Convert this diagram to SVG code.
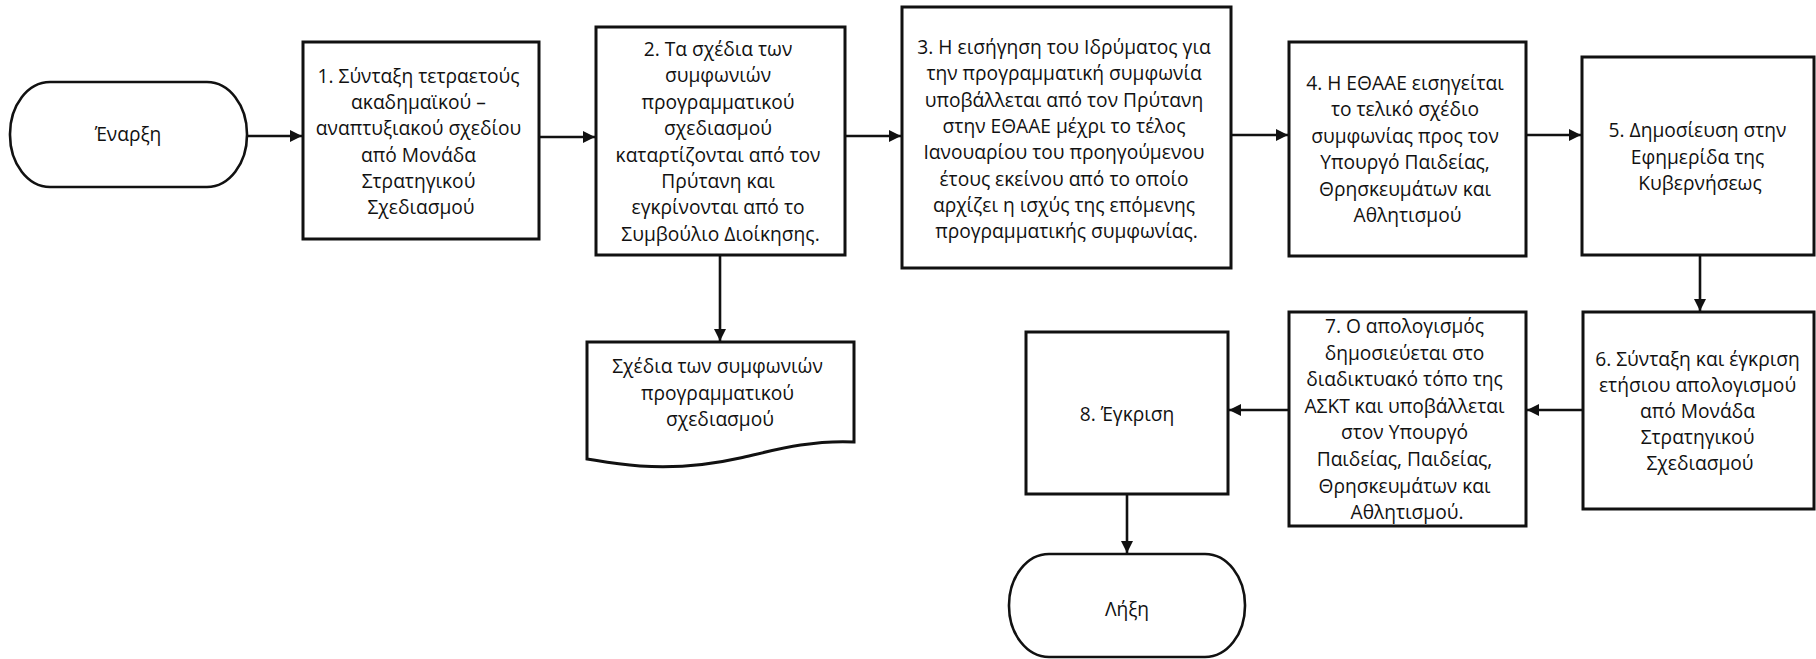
<svg xmlns="http://www.w3.org/2000/svg" width="1816" height="659" viewBox="0 0 1816 659">
  <style>
    .box { fill: #fff; stroke: #111; stroke-width: 3; }
    .term { fill: #fff; stroke: #111; stroke-width: 2.6; }
    .lbl { font-family: "Open Sans", "Noto Sans", "Liberation Sans", sans-serif; font-size: 19.2px; fill: #111; text-anchor: middle; }
    .conn { fill: none; stroke: #111; stroke-width: 2.6; }
  </style>
  <defs>
    <marker id="arrow" viewBox="0 0 12 12" refX="12" refY="6" markerWidth="12" markerHeight="12" markerUnits="userSpaceOnUse" orient="auto">
      <path d="M0,0 L12,6 L0,12 Z" fill="#111"/>
    </marker>
  </defs>
  <rect width="1816" height="659" fill="#fff"/>

  <!-- connectors -->
  <g id="connectors" class="conn">
    <line x1="247" y1="136" x2="302" y2="136" marker-end="url(#arrow)"/>
    <line x1="539" y1="137" x2="595" y2="137" marker-end="url(#arrow)"/>
    <line x1="845" y1="136" x2="901" y2="136" marker-end="url(#arrow)"/>
    <line x1="1231" y1="135" x2="1288" y2="135" marker-end="url(#arrow)"/>
    <line x1="1526" y1="135" x2="1581" y2="135" marker-end="url(#arrow)"/>
    <line x1="720" y1="255" x2="720" y2="341" marker-end="url(#arrow)"/>
    <line x1="1700" y1="255" x2="1700" y2="311" marker-end="url(#arrow)"/>
    <line x1="1583" y1="410" x2="1527" y2="410" marker-end="url(#arrow)"/>
    <line x1="1289" y1="410" x2="1229" y2="410" marker-end="url(#arrow)"/>
    <line x1="1127" y1="494" x2="1127" y2="553" marker-end="url(#arrow)"/>
  </g>

  <g id="start">
    <rect class="term" x="10" y="82" width="237" height="105" rx="40" ry="52"/>
    <text class="lbl" x="128" y="141">Έναρξη</text>
  </g>

  <g id="step1">
    <rect class="box" x="303" y="42" width="236" height="197"/>
    <text class="lbl" x="421" y="83">
      <tspan x="421">1. Σύνταξη τετραετούς</tspan>
      <tspan x="421" dy="26.2">ακαδημαϊκού –</tspan>
      <tspan x="421" dy="26.2">αναπτυξιακού σχεδίου</tspan>
      <tspan x="421" dy="26.2">από Μονάδα</tspan>
      <tspan x="421" dy="26.2">Στρατηγικού</tspan>
      <tspan x="421" dy="26.2">Σχεδιασμού</tspan>
    </text>
  </g>

  <g id="step2">
    <rect class="box" x="596" y="27" width="249" height="228"/>
    <text class="lbl" x="720.5" y="56">
      <tspan x="720.5">2. Τα σχέδια των</tspan>
      <tspan x="720.5" dy="26.4">συμφωνιών</tspan>
      <tspan x="720.5" dy="26.4">προγραμματικού</tspan>
      <tspan x="720.5" dy="26.4">σχεδιασμού</tspan>
      <tspan x="720.5" dy="26.4">καταρτίζονται από τον</tspan>
      <tspan x="720.5" dy="26.4">Πρύτανη και</tspan>
      <tspan x="720.5" dy="26.4">εγκρίνονται από το</tspan>
      <tspan x="720.5" dy="26.4">Συμβούλιο Διοίκησης.</tspan>
    </text>
  </g>

  <g id="plans-document">
    <path class="box" d="M587,342 H854 V442 C810,440 775,450 740,458 C705,466 670,468 640,466 C615,464 600,461 587,459 Z"/>
    <text class="lbl" x="720" y="373">
      <tspan x="720">Σχέδια των συμφωνιών</tspan>
      <tspan x="720" dy="26.5">προγραμματικού</tspan>
      <tspan x="720" dy="26.5">σχεδιασμού</tspan>
    </text>
  </g>

  <g id="step3">
    <rect class="box" x="902" y="7" width="329" height="261"/>
    <text class="lbl" x="1066.5" y="54">
      <tspan x="1066.5">3. Η εισήγηση του Ιδρύματος για</tspan>
      <tspan x="1066.5" dy="26.3">την προγραμματική συμφωνία</tspan>
      <tspan x="1066.5" dy="26.3">υποβάλλεται από τον Πρύτανη</tspan>
      <tspan x="1066.5" dy="26.3">στην ΕΘΑΑΕ μέχρι το τέλος</tspan>
      <tspan x="1066.5" dy="26.3">Ιανουαρίου του προηγούμενου</tspan>
      <tspan x="1066.5" dy="26.3">έτους εκείνου από το οποίο</tspan>
      <tspan x="1066.5" dy="26.3">αρχίζει η ισχύς της επόμενης</tspan>
      <tspan x="1066.5" dy="26.3">προγραμματικής συμφωνίας.</tspan>
    </text>
  </g>

  <g id="step4">
    <rect class="box" x="1289" y="42" width="237" height="214"/>
    <text class="lbl" x="1407.5" y="90">
      <tspan x="1407.5">4. Η ΕΘΑΑΕ εισηγείται</tspan>
      <tspan x="1407.5" dy="26.4">το τελικό σχέδιο</tspan>
      <tspan x="1407.5" dy="26.4">συμφωνίας προς τον</tspan>
      <tspan x="1407.5" dy="26.4">Υπουργό Παιδείας,</tspan>
      <tspan x="1407.5" dy="26.4">Θρησκευμάτων και</tspan>
      <tspan x="1407.5" dy="26.4">Αθλητισμού</tspan>
    </text>
  </g>

  <g id="step5">
    <rect class="box" x="1582" y="57" width="232" height="198"/>
    <text class="lbl" x="1700" y="137">
      <tspan x="1700">5. Δημοσίευση στην</tspan>
      <tspan x="1700" dy="26.5">Εφημερίδα της</tspan>
      <tspan x="1700" dy="26.5">Κυβερνήσεως</tspan>
    </text>
  </g>

  <g id="step6">
    <rect class="box" x="1583" y="312" width="231" height="197"/>
    <text class="lbl" x="1700" y="366">
      <tspan x="1700">6. Σύνταξη και έγκριση</tspan>
      <tspan x="1700" dy="26">ετήσιου απολογισμού</tspan>
      <tspan x="1700" dy="26">από Μονάδα</tspan>
      <tspan x="1700" dy="26">Στρατηγικού</tspan>
      <tspan x="1700" dy="26">Σχεδιασμού</tspan>
    </text>
  </g>

  <g id="step7">
    <rect class="box" x="1289" y="312" width="237" height="214"/>
    <text class="lbl" x="1407" y="333">
      <tspan x="1407">7. Ο απολογισμός</tspan>
      <tspan x="1407" dy="26.6">δημοσιεύεται στο</tspan>
      <tspan x="1407" dy="26.6">διαδικτυακό τόπο της</tspan>
      <tspan x="1407" dy="26.6">ΑΣΚΤ και υποβάλλεται</tspan>
      <tspan x="1407" dy="26.6">στον Υπουργό</tspan>
      <tspan x="1407" dy="26.6">Παιδείας, Παιδείας,</tspan>
      <tspan x="1407" dy="26.6">Θρησκευμάτων και</tspan>
      <tspan x="1407" dy="26.6">Αθλητισμού.</tspan>
    </text>
  </g>

  <g id="step8">
    <rect class="box" x="1026" y="332" width="202" height="162"/>
    <text class="lbl" x="1127" y="421">8. Έγκριση</text>
  </g>

  <g id="end">
    <rect class="term" x="1009" y="554" width="236" height="103" rx="40" ry="51"/>
    <text class="lbl" x="1127" y="616">Λήξη</text>
  </g>
</svg>
